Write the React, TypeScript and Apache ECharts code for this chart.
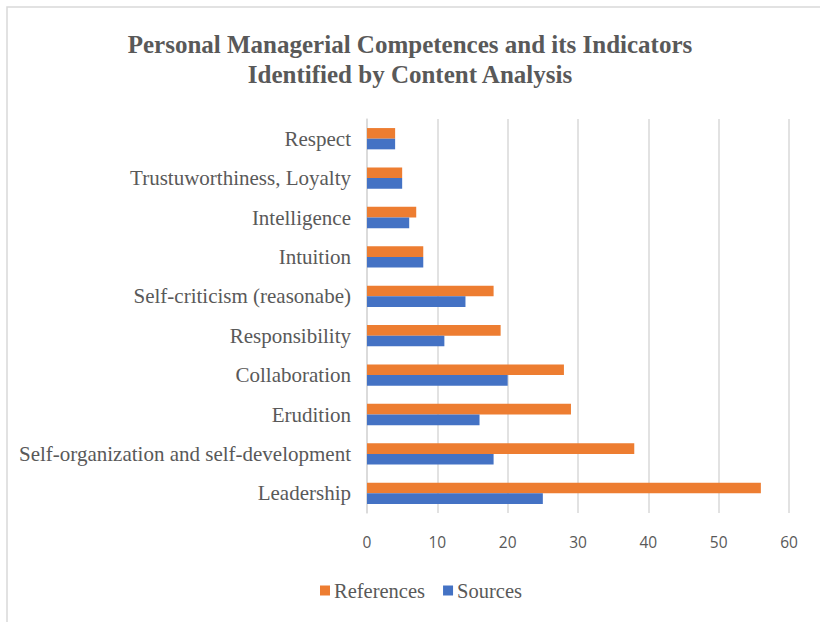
import React, { useEffect, useRef } from "react";
import * as echarts from "echarts";

const categories = [
  "Leadership",
  "Self-organization and self-development",
  "Erudition",
  "Collaboration",
  "Responsibility",
  "Self-criticism (reasonabe)",
  "Intuition",
  "Intelligence",
  "Trustuworthiness, Loyalty",
  "Respect",
];
const references = [56, 38, 29, 28, 19, 18, 8, 7, 5, 4];
const sources = [25, 18, 16, 20, 11, 14, 8, 6, 5, 4];
const xTicks = { min: 0, max: 60, interval: 10 };

const SERIF = "'Liberation Serif', 'Times New Roman', serif";

export default function App() {
  const ref = useRef<HTMLDivElement>(null);
  useEffect(() => {
    if (!ref.current) return;
    const chart = echarts.init(ref.current, null, { renderer: "svg" });
    chart.setOption({
      animation: false,
      backgroundColor: "#ffffff",
      textStyle: { fontFamily: SERIF },
      title: {
        text: "Personal Managerial Competences and its Indicators\nIdentified by Content Analysis",
        left: "center",
        top: 24,
        textStyle: {
          fontFamily: SERIF,
          fontWeight: "bold",
          fontSize: 25,
          color: "#595959",
          lineHeight: 30,
        },
      },
      graphic: [
        {
          type: "rect",
          shape: { x: 7, y: 7, width: 830, height: 640 },
          style: { fill: "none", stroke: "#d9d9d9", lineWidth: 1.5 },
          silent: true,
          z: -1,
        },
      ],
      legend: {
        bottom: 16,
        left: 315,
        itemWidth: 10,
        itemHeight: 10,
        itemGap: 18,
        icon: "rect",
        data: ["References", "Sources"],
        textStyle: {
          fontFamily: SERIF,
          fontSize: 20.5,
          color: "#595959",
          padding: [0, 0, 0, -1],
        },
      },
      grid: { left: 367, right: 31, top: 119, bottom: 109, containLabel: false },
      xAxis: {
        type: "value",
        min: xTicks.min,
        max: xTicks.max,
        interval: xTicks.interval,
        axisLine: { show: false },
        axisTick: { show: false },
        splitLine: { show: true, lineStyle: { color: "#d9d9d9", width: 1.5 } },
        axisLabel: {
          margin: 21,
          fontFamily: "'Open Sans', sans-serif",
          fontSize: 15.5,
          color: "#595959",
        },
      },
      yAxis: {
        type: "category",
        data: categories,
        axisLine: { show: true, lineStyle: { color: "#d9d9d9", width: 1.5 } },
        axisTick: { show: false },
        axisLabel: {
          margin: 16,
          fontFamily: SERIF,
          fontSize: 21,
          color: "#595959",
        },
      },
      series: [
        {
          name: "References",
          type: "bar",
          data: references,
          itemStyle: { color: "#ED7D31" },
          barGap: "0%",
          barCategoryGap: "46%",
        },
        {
          name: "Sources",
          type: "bar",
          data: sources,
          itemStyle: { color: "#4472C4" },
          barGap: "0%",
          barCategoryGap: "46%",
        },
      ],
    });
    return () => chart.dispose();
  }, []);
  return (
    <div
      ref={ref}
      style={{ position: "fixed", left: 0, top: 0, width: 820, height: 622 }}
    />
  );
}
